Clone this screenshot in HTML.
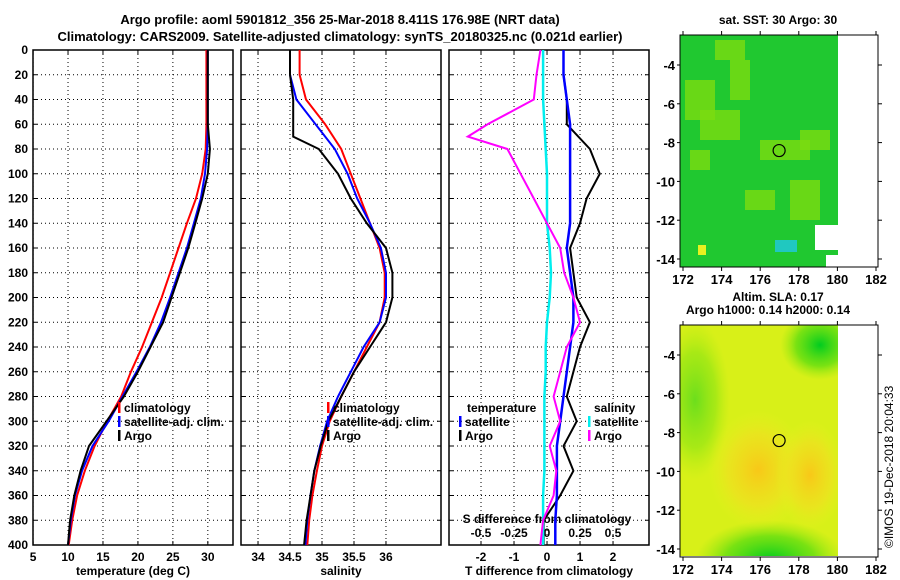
<!DOCTYPE html>
<html><head><meta charset="utf-8">
<style>
body{margin:0;background:#fff;}
svg{display:block;font-family:"Liberation Sans",sans-serif;font-weight:bold;}
text{font-size:12px;fill:#000;}
</style></head>
<body>
<svg id="chart" width="900" height="580" viewBox="0 0 900 580" xmlns="http://www.w3.org/2000/svg">
<defs>
<radialGradient id="gy1" cx="0.5" cy="0.5" r="0.5"><stop offset="0" stop-color="#f8c818"/><stop offset="0.6" stop-color="#f0e020" stop-opacity="0.7"/><stop offset="1" stop-color="#e8f020" stop-opacity="0"/></radialGradient>
<radialGradient id="gg1" cx="0.5" cy="0.5" r="0.5"><stop offset="0" stop-color="#00cc20"/><stop offset="0.6" stop-color="#50dc10" stop-opacity="0.7"/><stop offset="1" stop-color="#90e810" stop-opacity="0"/></radialGradient>
<clipPath id="cm2"><rect x="680" y="325" width="158" height="231"/></clipPath>
<clipPath id="cm1"><rect x="680" y="35" width="158" height="232"/></clipPath>
</defs>
<text x="340" y="24" text-anchor="middle" style="font-size:13px">Argo profile: aoml 5901812_356 25-Mar-2018 8.411S 176.98E (NRT data)</text>
<text x="340" y="41" text-anchor="middle" style="font-size:13px">Climatology: CARS2009. Satellite-adjusted climatology: synTS_20180325.nc (0.021d earlier)</text>
<g id="panels"></g>
<g id="maps"></g>
<text transform="translate(893,548) rotate(-90)" style="font-weight:normal">©IMOS 19-Dec-2018 20:04:33</text>
</svg>
<script>
const depths=[0,20,40,60,80,100,120,140,160,180,200,220,240,260,280,300,320,340,360,380,400];
const tClim=[29.8,29.8,29.8,29.8,29.7,29.2,28.3,27.0,25.8,24.6,23.4,22.0,20.6,19.0,17.6,15.6,13.8,12.4,11.3,10.6,10.1];
const tSat=[30.0,30.0,30.0,30.0,29.9,29.6,29.0,28.0,27.0,25.8,24.6,23.3,21.7,19.8,17.8,15.8,13.5,12.0,11.0,10.4,10.0];
const tArgo=[30.0,30.0,30.0,30.0,30.3,30.0,29.2,28.2,27.2,26.0,24.8,23.6,21.8,20.0,18.0,15.5,13.0,11.8,10.9,10.3,10.0];
const sClim=[34.65,34.65,34.75,35.05,35.3,35.45,35.6,35.75,35.9,35.98,35.98,35.9,35.7,35.5,35.3,35.12,35.0,34.92,34.85,34.8,34.77];
const sSat=[34.5,34.5,34.6,34.9,35.2,35.4,35.55,35.75,35.92,36.0,36.0,35.9,35.65,35.45,35.25,35.08,34.97,34.88,34.82,34.77,34.74];
const sArgoDepths=[0,20,40,60,70,80,100,120,140,160,180,200,220,240,260,280,300,320,340,360,380,400];
const sArgo=[34.5,34.5,34.55,34.55,34.55,34.95,35.25,35.45,35.7,36.0,36.1,36.1,36.0,35.75,35.5,35.3,35.1,34.98,34.88,34.82,34.76,34.72];
const dTSat=[0.5,0.5,0.6,0.7,0.7,0.7,0.7,0.7,0.6,0.7,0.8,0.8,0.7,0.6,0.5,0.4,0.3,0.3,0.3,0.25,0.25];
const dTArgo=[0.5,0.5,0.6,0.6,1.3,1.6,1.2,1.0,0.7,0.8,0.9,1.3,1.0,0.8,0.6,0.9,0.5,0.8,0.4,-0.1,-0.1];
const dSSat=[-0.03,-0.03,-0.03,-0.02,-0.01,0,0,0,0.02,0.03,0.02,0,-0.01,-0.01,-0.02,-0.02,-0.02,-0.02,-0.03,-0.03,-0.03];
const dSArgo=[-0.05,-0.08,-0.1,-0.45,-0.6,-0.3,-0.2,-0.1,0.0,0.1,0.13,0.2,0.25,0.15,0.1,0.05,0.1,0.02,0.07,0.05,-0.03,-0.05];
const depthTicks=[0,20,40,60,80,100,120,140,160,180,200,220,240,260,280,300,320,340,360,380,400];
const tTicks=[5,10,15,20,25,30];
const sTicks=[34,34.5,35,35.5,36];
const dTTicks=[-2,-1,0,1,2];
const dSTicks=[-0.5,-0.25,0,0.25,0.5];
const dSTickLabels=["-0.5","-0.25","0","0.25","0.5"];

const NS="http://www.w3.org/2000/svg";
const TOP=50,BOT=545;
const yD=d=>TOP+(d/400)*(BOT-TOP);
function mk(tag,attrs,parent,txt){const e=document.createElementNS(NS,tag);for(const k in attrs)e.setAttribute(k,attrs[k]);if(txt!==undefined)e.textContent=txt;parent.appendChild(e);return e;}
const G=document.getElementById('panels');

const panels=[
 {x0:33,x1:233,lo:4.99,hi:33.6},
 {x0:241,x1:441,lo:33.734,hi:36.86},
 {x0:449,x1:649,lo:-2.97,hi:3.09}
];
function xs(p,v){return p.x0+(v-p.lo)/(p.hi-p.lo)*(p.x1-p.x0);}
const dsP={x0:449,x1:649,lo:-0.7425,hi:0.7725};

function line(p,xv,ys,color,name,w){
  const pts=xv.map((v,i)=>xs(p,v).toFixed(1)+','+yD(ys[i]).toFixed(1)).join(' ');
  const l=mk('polyline',{points:pts,fill:'none',stroke:color,'stroke-width':w||2},G);
  
  
}

panels.forEach((p,pi)=>{
  const ticks=pi==0?tTicks:pi==1?sTicks:dTTicks;
  const g=mk('g',{},G);
  
  
  depthTicks.forEach(d=>{ if(d>0&&d<400) mk('line',{x1:p.x0,x2:p.x1,y1:yD(d),y2:yD(d),stroke:'#000','stroke-width':1,'stroke-dasharray':'1,3'},g);
    mk('line',{x1:p.x0,x2:p.x0+4,y1:yD(d),y2:yD(d),stroke:'#000'},g);
    mk('line',{x1:p.x1-4,x2:p.x1,y1:yD(d),y2:yD(d),stroke:'#000'},g);});
  ticks.forEach(t=>{const x=xs(p,t);
    mk('line',{x1:x,x2:x,y1:TOP,y2:BOT,stroke:'#000','stroke-width':1,'stroke-dasharray':'1,3'},g);
    mk('line',{x1:x,x2:x,y1:BOT-4,y2:BOT,stroke:'#000'},g);
    mk('line',{x1:x,x2:x,y1:TOP,y2:TOP+4,stroke:'#000'},g);
    const tl=mk('text',{x:x,y:BOT+16,'text-anchor':'middle'},g,String(t));
    
    
  });
  const fr=mk('rect',{x:p.x0,y:TOP,width:p.x1-p.x0,height:BOT-TOP,fill:'none',stroke:'#000','stroke-width':1.5},G);
  
  
});
depthTicks.forEach(d=>{const t=mk('text',{x:28,y:yD(d)+4,'text-anchor':'end'},G,String(d));
  
  });

[['temperature (deg C)',133],['salinity',341],['T difference from climatology',549]].forEach(([s,x])=>{
  const t=mk('text',{x:x,y:575,'text-anchor':'middle'},G,s);
  
  });

// S diff inner axis
dSTicks.forEach((t,i)=>{const x=dsP.x0+(t-dsP.lo)/(dsP.hi-dsP.lo)*200;
  const l=mk('text',{x:x,y:537,'text-anchor':'middle'},G,dSTickLabels[i]);
  
  });
const sdt=mk('text',{x:547,y:523,'text-anchor':'middle'},G,'S difference from climatology');



// series
line(panels[0],tClim,depths,'#ff0000','temp-climatology-line');
line(panels[0],tSat,depths,'#0000ff','temp-satellite-line');
line(panels[0],tArgo,depths,'#000000','temp-argo-line');
line(panels[1],sClim,depths,'#ff0000','sal-climatology-line');
line(panels[1],sSat,depths,'#0000ff','sal-satellite-line');
line(panels[1],sArgo,sArgoDepths,'#000000','sal-argo-line');
line(panels[2],dTArgo,depths,'#000000','tdiff-argo-line');
line(panels[2],dTSat,depths,'#0000ff','tdiff-satellite-line',2.5);
line(dsP,dSSat,depths,'#00eeee','sdiff-satellite-line',2.5);
line(dsP,dSArgo,sArgoDepths,'#ff00ff','sdiff-argo-line');

function leg(x,y,color,label,name){
  const g=mk('g',{},G);
  
  
  if(color) mk('rect',{x:x,y:y-10,width:2.5,height:11,fill:color},g);
  mk('text',{x:x+(color?6:0),y:y},g,label);
}
leg(118,412,'#ff0000','climatology','legend-temp-climatology');
leg(118,426,'#0000ff','satellite-adj. clim.','legend-temp-satellite');
leg(118,440,'#000','Argo','legend-temp-argo');
leg(327,412,'#ff0000','climatology','legend-sal-climatology');
leg(327,426,'#0000ff','satellite-adj. clim.','legend-sal-satellite');
leg(327,440,'#000','Argo','legend-sal-argo');
leg(467,412,null,'temperature','legend-tdiff-title');
leg(459,426,'#0000ff','satellite','legend-tdiff-satellite');
leg(459,440,'#000','Argo','legend-tdiff-argo');
leg(594,412,null,'salinity','legend-sdiff-title');
leg(588,426,'#00eeee','satellite','legend-sdiff-satellite');
leg(588,440,'#ff00ff','Argo','legend-sdiff-argo');

// maps
const M=document.getElementById('maps');
function mapAxes(top,bot,y4,y14,name,title1,title2){
  const g=mk('g',{},M);
  
  
  const lx=v=>683+(v-172)*19.3;
  const ly=v=>y4+(-4-v)*(y14-y4)/10;
  [172,174,176,178,180,182].forEach(v=>{mk('line',{x1:lx(v),x2:lx(v),y1:bot,y2:bot+4,stroke:'#000'},g);mk('line',{x1:lx(v),x2:lx(v),y1:top-4,y2:top,stroke:'#000'},g);
    mk('text',{x:lx(v),y:bot+17,'text-anchor':'middle',style:'font-size:13px'},g,String(v));});
  [-4,-6,-8,-10,-12,-14].forEach(v=>{mk('line',{x1:677,x2:680,y1:ly(v),y2:ly(v),stroke:'#000'},g);mk('line',{x1:878,x2:882,y1:ly(v),y2:ly(v),stroke:'#000'},g);
    mk('text',{x:675,y:ly(v)+5,'text-anchor':'end',style:'font-size:13px'},g,String(v));});
  mk('rect',{x:680,y:top,width:198,height:bot-top,fill:'none',stroke:'#000'},g);
  mk('circle',{cx:lx(176.98),cy:ly(-8.41),r:6,fill:'none',stroke:'#000','stroke-width':1.2},g);
  mk('text',{x:778,y:top-11-(title2?13:0),'text-anchor':'middle'},g,title1);
  if(title2) mk('text',{x:768,y:top-11,'text-anchor':'middle'},g,title2);
}
// top map fill
const m1=mk('g',{'clip-path':'url(#cm1)'},M);


mk('rect',{x:680,y:35,width:158,height:232,fill:'#20c830'},m1);
[[685,80,30,40],[700,110,40,30],[730,60,20,40],[760,140,50,20],[800,130,30,20],[690,150,20,20],[745,190,30,20],[790,180,30,40],[715,40,30,20]].forEach(r=>mk('rect',{x:r[0],y:r[1],width:r[2],height:r[3],fill:'#7cdc10',opacity:0.8},m1));
mk('rect',{x:775,y:240,width:22,height:12,fill:'#20c8c0'},m1);
mk('rect',{x:698,y:245,width:8,height:10,fill:'#e8f020'},m1);
mk('rect',{x:815,y:225,width:23,height:25,fill:'#fff'},m1);
mk('rect',{x:826,y:255,width:12,height:12,fill:'#fff'},m1);
// bottom map fill
const m2=mk('g',{'clip-path':'url(#cm2)'},M);


mk('rect',{x:680,y:325,width:158,height:231,fill:'#d8f018'},m2);
mk('ellipse',{cx:820,cy:345,rx:40,ry:35,fill:'url(#gg1)'},m2);
mk('ellipse',{cx:770,cy:560,rx:75,ry:40,fill:'url(#gg1)'},m2);
mk('ellipse',{cx:695,cy:400,rx:35,ry:80,fill:'url(#gg1)',opacity:0.5},m2);
mk('ellipse',{cx:758,cy:470,rx:50,ry:60,fill:'url(#gy1)'},m2);
mk('ellipse',{cx:810,cy:475,rx:35,ry:55,fill:'url(#gy1)'},m2);
mapAxes(35,267,65,259,'sst-map-axes','sat. SST: 30 Argo: 30');
mapAxes(325,557,355,549,'sla-map-axes','Altim. SLA: 0.17','Argo h1000: 0.14 h2000: 0.14');
</script>
</body></html>
